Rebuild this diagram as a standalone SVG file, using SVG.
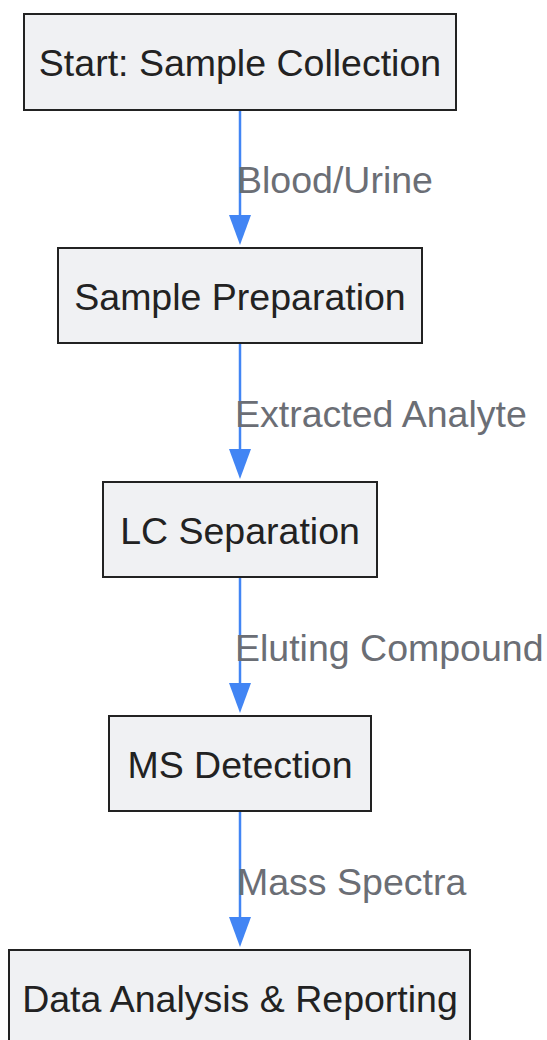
<svg xmlns="http://www.w3.org/2000/svg" width="547" height="1040" viewBox="0 0 547 1040">
<defs>
<style>
.node rect{fill:#f0f1f3;stroke:#222222;stroke-width:2}
.node text{font-family:"Liberation Sans",Arial,sans-serif;font-size:37.5px;fill:#222222;text-anchor:middle}
.edge line{stroke:#4285f4;stroke-width:2.5;fill:none}
.edge path{fill:#4285f4}
.lbl{font-family:"Liberation Sans",Arial,sans-serif;font-size:37.5px;fill:#6b6e75}
</style>
</defs>
<rect width="547" height="1040" fill="#ffffff"/>
<g id="connectors" class="edge">
<line x1="240" y1="111" x2="240" y2="220"/>
<line x1="240" y1="344" x2="240" y2="454"/>
<line x1="240" y1="578" x2="240" y2="688"/>
<line x1="240" y1="812" x2="240" y2="922"/>
<path d="M229,215 L251,215 L240,245 Z"/>
<path d="M229,449 L251,449 L240,479 Z"/>
<path d="M229,683 L251,683 L240,713 Z"/>
<path d="M229,917 L251,917 L240,947 Z"/>
<text class="lbl" x="237" y="193">Blood/Urine</text>
<text class="lbl" x="235" y="427">Extracted Analyte</text>
<text class="lbl" x="235" y="661">Eluting Compound</text>
<text class="lbl" x="237" y="895">Mass Spectra</text>
</g>
<g id="n1" class="node"><rect x="24" y="14" width="432" height="96"/><text x="240" y="76">Start: Sample Collection</text></g>
<g id="n2" class="node"><rect x="58" y="248" width="364" height="95"/><text x="240" y="310">Sample Preparation</text></g>
<g id="n3" class="node"><rect x="103" y="482" width="274" height="95"/><text x="240" y="544">LC Separation</text></g>
<g id="n4" class="node"><rect x="109" y="716" width="262" height="95"/><text x="240" y="778">MS Detection</text></g>
<g id="n5" class="node"><rect x="9" y="950" width="461" height="96"/><text x="240" y="1012">Data Analysis &amp; Reporting</text></g>
</svg>
